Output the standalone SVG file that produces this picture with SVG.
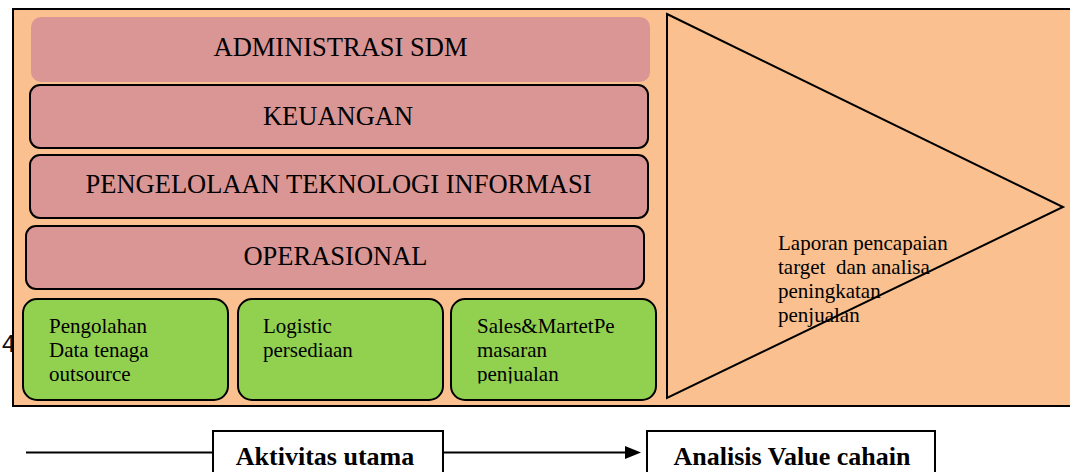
<svg xmlns="http://www.w3.org/2000/svg" width="1070" height="472" viewBox="0 0 1070 472">
<style>
.title{font-family:'Liberation Serif','DejaVu Serif',serif;font-size:26.5px;fill:#000;text-anchor:middle}
.body{font-family:'Liberation Serif','DejaVu Serif',serif;font-size:21px;fill:#000;white-space:pre}
.bold{font-family:'Liberation Serif','DejaVu Serif',serif;font-size:26px;font-weight:bold;fill:#000;text-anchor:middle}
.pink{fill:#D99694;stroke:#000;stroke-width:2}
.green{fill:#92D050;stroke:#000;stroke-width:2}
.ln{stroke:#000;stroke-width:2;fill:none}
</style>
<defs>
<clipPath id="clipSales"><rect x="451" y="299" width="205" height="84.5"/></clipPath>
</defs>
<rect width="1070" height="472" fill="#fff"/>
<text x="2" y="352" font-family="'Liberation Sans', Arial, sans-serif" font-size="24" fill="#111">4</text>
<rect id="frame" x="13" y="9" width="1070" height="397" fill="#FAC090" stroke="#000" stroke-width="2"/>
<g id="admin">
<rect x="31" y="17" width="619" height="65" rx="10" fill="#D99694"/>
<text class="title" x="340.5" y="55.5">ADMINISTRASI SDM</text>
</g>
<g id="keuangan">
<rect class="pink" x="30" y="85" width="618" height="63" rx="10"/>
<text class="title" x="338" y="125">KEUANGAN</text>
</g>
<g id="pti">
<rect class="pink" x="30" y="155" width="618" height="63" rx="10"/>
<text class="title" x="338.5" y="193">PENGELOLAAN TEKNOLOGI INFORMASI</text>
</g>
<g id="operasional">
<rect class="pink" x="26" y="226" width="618" height="63" rx="10"/>
<text class="title" x="335.5" y="265">OPERASIONAL</text>
</g>
<g id="pengolahan">
<rect class="green" x="23" y="299" width="205" height="101" rx="14"/>
<text class="body" x="49" y="333">Pengolahan</text>
<text class="body" x="49" y="357">Data tenaga</text>
<text class="body" x="49" y="381">outsource</text>
</g>
<g id="logistic">
<rect class="green" x="238" y="299" width="205" height="101" rx="14"/>
<text class="body" x="263" y="333">Logistic</text>
<text class="body" x="263" y="357">persediaan</text>
</g>
<g id="sales">
<rect class="green" x="451" y="299" width="205" height="101" rx="14"/>
<g clip-path="url(#clipSales)">
<text class="body" x="477" y="333">Sales&amp;MartetPe</text>
<text class="body" x="477" y="357">masaran</text>
<text class="body" x="477" y="381">penjualan</text>
</g>
</g>
<g id="laporan">
<text class="body" x="778" y="250">Laporan pencapaian</text>
<text class="body" x="778" y="274">target  dan analisa</text>
<text class="body" x="778" y="298">peningkatan</text>
<text class="body" x="778" y="322">penjualan</text>
<polygon class="ln" points="667,14 1063,207 667,398"/>
</g>
<g id="connectors">
<line class="ln" x1="26" y1="452.5" x2="213" y2="452.5"/>
<line class="ln" x1="443" y1="452.5" x2="628" y2="452.5"/>
<polygon points="625,446 641,452.5 625,459" fill="#000"/>
</g>
<g id="aktivitas">
<rect x="213" y="431" width="230" height="50" fill="#fff" stroke="#000" stroke-width="2"/>
<text class="bold" x="325" y="465">Aktivitas utama</text>
</g>
<g id="analisis">
<rect x="647" y="431" width="288" height="50" fill="#fff" stroke="#000" stroke-width="2"/>
<text class="bold" x="792" y="465">Analisis Value cahain</text>
</g>
</svg>
